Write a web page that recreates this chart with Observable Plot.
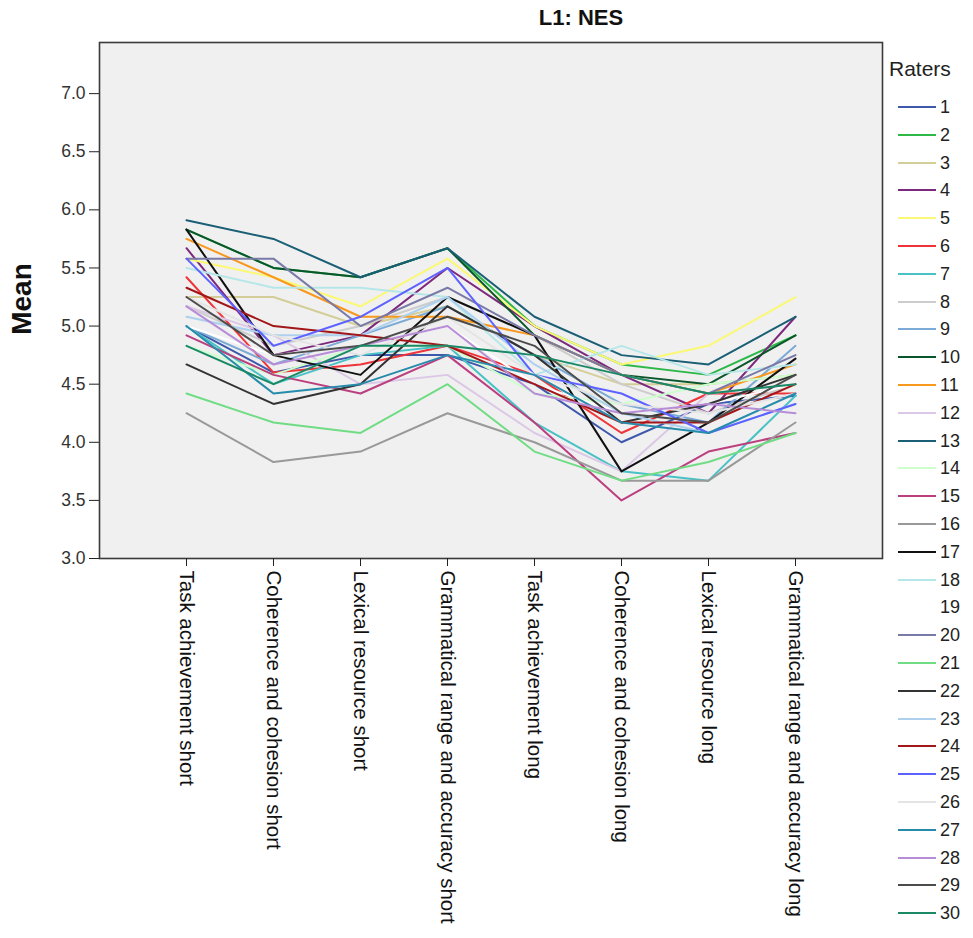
<!DOCTYPE html>
<html><head><meta charset="utf-8">
<script src="https://cdn.jsdelivr.net/npm/d3@7"></script>
<script src="https://cdn.jsdelivr.net/npm/@observablehq/plot@0.6"></script>
<style>
body{margin:0;background:#fff;font-family:"Liberation Sans",Arial,sans-serif}
#wrap{position:relative;width:973px;height:938px;overflow:hidden}
#title{position:absolute;top:5px;left:481px;width:200px;text-align:center;font-family:"Liberation Sans",Arial,sans-serif;font-weight:bold;font-size:22px;line-height:26px;color:#111}
#ylab{position:absolute;left:22px;top:299px;transform:translate(-50%,-50%) rotate(-90deg);font-weight:bold;font-size:28px;line-height:30px;color:#111;white-space:nowrap}
#legend{position:absolute;left:0;top:0}
#legend .hd{position:absolute;left:889px;top:57px;font-size:21px;line-height:24px;color:#222;white-space:nowrap}
#legend .ln{position:absolute;left:898px;width:38px;height:0;border-top:2.2px solid}
#legend .tx{position:absolute;left:940px;font-size:18px;line-height:20px;color:#222}
</style></head><body><div id="wrap"><div id="title">L1: NES</div><div id="ylab">Mean</div><div id="legend"></div></div>
<script>
const categories = ["Task achievement short","Coherence and cohesion short","Lexical resource short","Grammatical range and accuracy short","Task achievement long","Coherence and cohesion long","Lexical resource long","Grammatical range and accuracy long"];
const raters = ["1","2","3","4","5","6","7","8","9","10","11","12","13","14","15","16","17","18","19","20","21","22","23","24","25","26","27","28","29","30"];
const raterColors = ["#3e58ac","#2eb848","#d3ce97","#7c287d","#fbf873","#ef3338","#48c2c5","#cccccc","#7aaad5","#0a562c","#f8981d","#dcc8e6","#1a5f76","#ccffcc","#bb3f7f","#999999","#111111","#b6e7e8","#ffffff","#797aa7","#70dc84","#333333","#acd0ee","#a21619","#5d61ff","#e4e4e4","#278bac","#b78dd7","#4c4c4c","#1a8a66"];
const yTicks = [3.0,3.5,4.0,4.5,5.0,5.5,6.0,6.5,7.0];

const rater1  = [5.00,4.60,4.75,4.75,4.50,4.00,4.33,4.40];
const rater2  = [5.83,5.50,5.42,5.67,5.00,4.67,4.58,4.92];
const rater3  = [5.25,5.25,5.00,5.17,4.75,4.50,4.50,4.58];
const rater4  = [5.67,4.75,4.92,5.50,5.00,4.58,4.25,5.08];
const rater5  = [5.58,5.42,5.17,5.58,5.00,4.67,4.83,5.25];
const rater6  = [5.42,4.60,4.67,4.83,4.58,4.08,4.42,4.42];
const rater7  = [5.00,4.50,4.75,4.83,4.17,3.75,3.67,4.40];
const rater8  = [5.17,4.83,5.00,5.25,4.92,4.50,4.25,4.50];
const rater9  = [5.00,4.67,4.92,5.17,4.75,4.33,4.17,4.83];
const rater10 = [5.83,5.50,5.42,5.67,4.92,4.58,4.50,4.92];
const rater11 = [5.75,5.42,5.08,5.08,4.92,4.58,4.42,4.67];
const rater12 = [5.17,4.92,4.50,4.58,4.08,3.75,4.42,4.50];
const rater13 = [5.91,5.75,5.42,5.67,5.08,4.75,4.67,5.08];
const rater14 = [4.83,4.58,4.83,4.83,4.42,4.33,4.50,4.58];
const rater15 = [4.92,4.58,4.42,4.75,4.17,3.50,3.92,4.08];
const rater16 = [4.25,3.83,3.92,4.25,4.00,3.67,3.67,4.17];
const rater17 = [5.83,4.75,4.58,5.25,4.92,3.75,4.17,4.72];
const rater18 = [5.50,5.33,5.33,5.25,4.58,4.83,4.58,4.67];
const rater19 = [5.00,4.75,4.83,5.00,4.50,4.25,4.33,4.50];
const rater20 = [5.58,5.58,5.00,5.33,4.92,4.58,4.42,4.75];
const rater21 = [4.42,4.17,4.08,4.50,3.92,3.67,3.83,4.08];
const rater22 = [4.67,4.33,4.50,5.17,4.75,4.17,4.33,4.58];
const rater23 = [5.08,4.92,4.92,5.25,4.67,4.25,4.08,4.33];
const rater24 = [5.33,5.00,4.92,4.83,4.50,4.17,4.17,4.50];
const rater25 = [5.58,4.83,5.08,5.50,4.58,4.42,4.08,4.33];
const rater26 = [5.25,4.92,4.75,5.08,4.58,4.33,4.25,4.42];
const rater27 = [5.00,4.42,4.50,4.75,4.58,4.17,4.08,4.42];
const rater28 = [5.17,4.67,4.83,5.00,4.42,4.25,4.33,4.25];
const rater29 = [5.25,4.75,4.83,5.08,4.83,4.25,4.17,4.58];
const rater30 = [4.83,4.50,4.83,4.83,4.75,4.58,4.42,4.50];

const series = [rater1,rater2,rater3,rater4,rater5,rater6,rater7,rater8,rater9,rater10,rater11,rater12,rater13,rater14,rater15,rater16,rater17,rater18,rater19,rater20,rater21,rater22,rater23,rater24,rater25,rater26,rater27,rater28,rater29,rater30];
const data = [];
series.forEach((vals, i) => vals.forEach((v, j) => data.push({rater: raters[i], cat: categories[j], v})));

const chart = Plot.plot({
  width: 973, height: 938,
  marginTop: 42, marginLeft: 99, marginRight: 91, marginBottom: 380,
  style: {fontFamily: "'Liberation Sans', Arial, sans-serif", fontSize: "15px", color: "#222", background: "transparent", overflow: "visible"},
  x: {type: "point", domain: categories, padding: 0.95, label: null},
  y: {domain: [3, 7.44], label: null},
  color: {domain: raters, range: raterColors},
  marks: [
    Plot.frame({fill: "#f0f0f0", stroke: null}),
    Plot.line(data, {x: "cat", y: "v", z: "rater", stroke: "rater", strokeWidth: 2}),
    Plot.frame({stroke: "#3a3a3a", strokeWidth: 1.6}),
    Plot.axisY({ticks: yTicks, tickFormat: d => d.toFixed(1), tickSize: 10, tickPadding: 4, label: null, stroke: "#222", fill: "#333", fontSize: 17.5}),
    Plot.axisX({tickRotate: 90, tickSize: 8, tickPadding: 4, label: null, stroke: "#222", fill: "#111", fontSize: 20.5})
  ]
});
const wrap = document.getElementById("wrap");
chart.style.position = "absolute"; chart.style.left = "0"; chart.style.top = "0";
wrap.insertBefore(chart, wrap.firstChild);

const leg = document.getElementById("legend");
const hd = document.createElement("div"); hd.className = "hd"; hd.textContent = "Raters"; leg.appendChild(hd);
raters.forEach((r, i) => {
  const cy = 107 + i * 27.8;
  const ln = document.createElement("div"); ln.className = "ln"; ln.style.borderTopColor = raterColors[i]; ln.style.top = (cy - 1) + "px";
  const tx = document.createElement("div"); tx.className = "tx"; tx.textContent = r; tx.style.top = (cy - 10) + "px";
  leg.appendChild(ln); leg.appendChild(tx);
});
</script></body></html>
